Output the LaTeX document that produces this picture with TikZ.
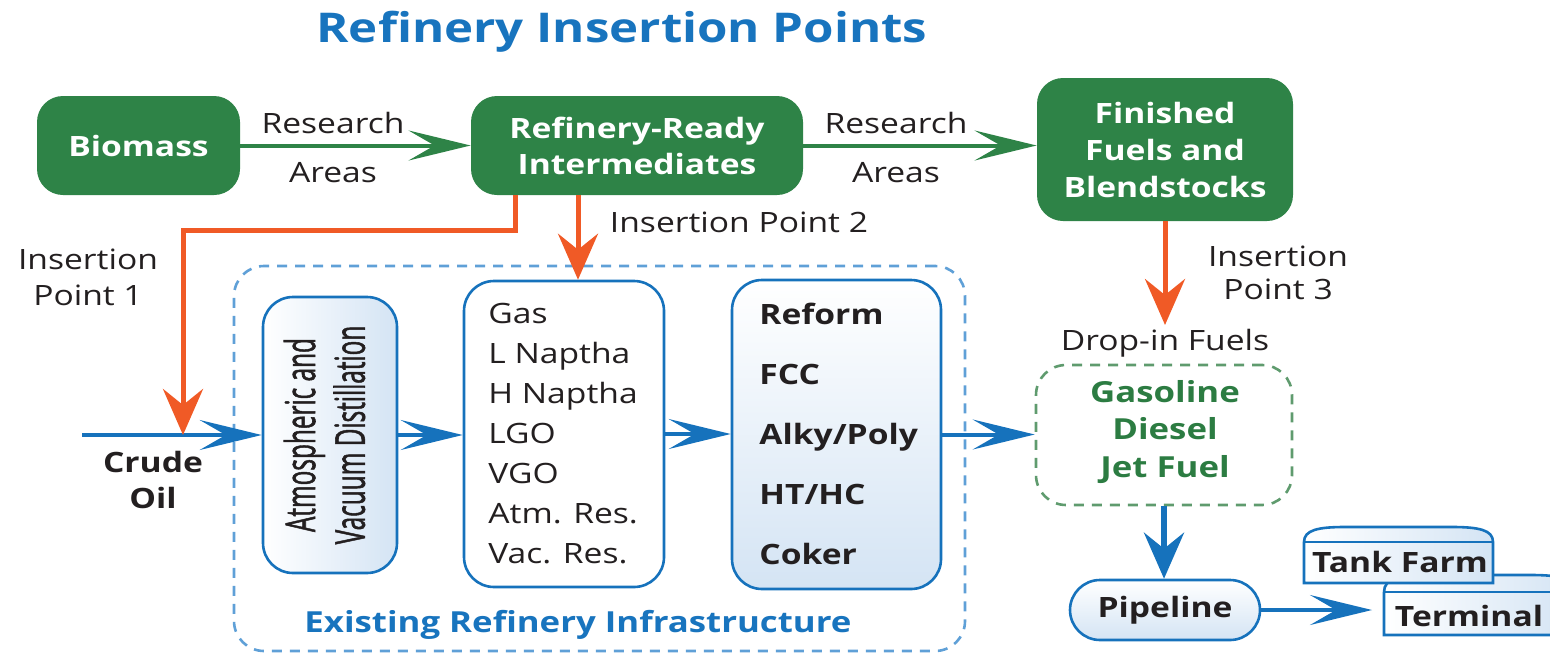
\documentclass[tikz,border=0pt]{standalone}
\usepackage{fontspec}
\usepackage{graphicx}
\setmainfont[FakeStretch=1.2]{Open Sans}
\newfontfamily\condfont[FakeStretch=0.84,FakeBold=1.5]{Open Sans}
\usetikzlibrary{arrows.meta,calc}
\definecolor{boxgreen}{RGB}{46,131,71}
\definecolor{orng}{RGB}{240,90,38}
\definecolor{lineblue}{RGB}{22,114,188}
\definecolor{dashblue}{RGB}{95,160,215}
\definecolor{titleblue}{RGB}{24,116,190}
\definecolor{lightblue}{RGB}{212,228,244}
\definecolor{txt}{RGB}{35,31,32}
\definecolor{fuelgreen}{RGB}{44,124,66}
\definecolor{dashgreen}{RGB}{95,155,110}
\begin{document}
\begin{tikzpicture}[x=0.5pt,y=-0.5pt,
  every node/.style={text=txt, font=\fontsize{14}{18.5}\selectfont},
  greenbox/.style={draw=none, fill=boxgreen, rounded corners=13pt, text=white,
    font=\bfseries\fontsize{14}{18.5}\selectfont, align=center, inner sep=0pt},
  bluebox/.style={draw=lineblue, line width=1.3pt, rounded corners=15pt, inner sep=0pt},
  hhead/.style={-{Stealth[length=31pt,width=15pt,inset=13pt]}},
  vhead/.style={-{Stealth[length=23pt,width=20pt,inset=8pt]}},
  gline/.style={draw=boxgreen, line width=2pt, hhead},
  bline/.style={draw=lineblue, line width=2pt, hhead},
  bvline/.style={draw=lineblue, line width=3pt, vhead},
  oline/.style={draw=orng, line width=2.5pt, vhead},
  lbl/.style={anchor=base, inner sep=0pt},
  dashbox/.style={line width=1.3pt, dash pattern=on 5pt off 4pt, rounded corners=15pt, inner sep=0pt},
  tankline/.style={draw=lineblue, line width=1.3pt},
]
\useasboundingbox (0,0) rectangle (1550,653);
\clip (0,0) rectangle (1550,653);

% title
\node[lbl, text=titleblue, font=\bfseries\fontsize{20.5}{24}\selectfont] (title) at (622,42) {Refinery Insertion Points};

% top green boxes
\node[greenbox, minimum width=101.5pt, minimum height=49.5pt] (bio) at (138.5,145.5) {Biomass};
\node[greenbox, minimum width=166pt, minimum height=49.5pt, font=\bfseries\fontsize{14}{18}\selectfont] (rri) at (637,145.5) {Refinery-Ready\\Intermediates};
\node[greenbox, minimum width=128pt, minimum height=71.5pt] (fin) at (1165,149.5) {Finished\\Fuels and\\Blendstocks};

% labels
\node[lbl] (r1) at (333,133) {Research};
\node[lbl] (a1) at (333,182) {Areas};
\node[lbl] (r2) at (896,133) {Research};
\node[lbl] (a2) at (896,182) {Areas};
\node[align=center, inner sep=0pt, font=\fontsize{14}{18}\selectfont] (ip1) at (88,277) {Insertion\\Point 1};
\node[lbl] (ip2) at (739,232) {Insertion Point 2};
\node[align=center, inner sep=0pt, font=\fontsize{14}{16.5}\selectfont] (ip3) at (1278,273) {Insertion\\Point 3};
\node[lbl] (drop) at (1165,350) {Drop-in Fuels};
\node[align=center, inner sep=0pt, font=\bfseries\fontsize{14}{18}\selectfont] (crude) at (153,480) {Crude\\Oil};

% existing refinery infrastructure
\node[dashbox, draw=dashblue, minimum width=365.5pt, minimum height=192.5pt] (infra) at (599.5,458.5) {};
\node[lbl, text=titleblue, font=\bfseries\fontsize{14.5}{18}\selectfont] (infral) at (578,632) {Existing Refinery Infrastructure};

\node[bluebox, left color=white, right color=lightblue, minimum width=67pt, minimum height=138pt] (dist) at (330,435) {};
\node[rotate=90, inner sep=0pt] (distt) at (dist.center) {\scalebox{1}[1.42]{\condfont\fontsize{14.5}{17.5}\selectfont\begin{tabular}{@{}c@{}}Atmospheric and\\Vacuum Distillation\end{tabular}}};

\node[bluebox, fill=white, minimum width=100pt, minimum height=153pt] (prod) at (564,434) {};
\node[anchor=west, align=left, inner sep=0pt, font=\fontsize{14}{20}\selectfont] (prodt) at (488,434) {Gas\\L Naptha\\H Naptha\\LGO\\VGO\\Atm. Res.\\Vac. Res.};

\node[bluebox, top color=white, bottom color=lightblue, minimum width=104.5pt, minimum height=154.5pt] (proc) at (836.5,434.5) {};
\node[anchor=west, align=left, inner sep=0pt, font=\bfseries\fontsize{14}{30}\selectfont] (proct) at (759,434) {Reform\\FCC\\Alky/Poly\\HT/HC\\Coker};

% drop-in fuels
\node[dashbox, draw=dashgreen, minimum width=128pt, minimum height=70pt] (fuels) at (1164,435) {};
\node[align=center, text=fuelgreen, font=\bfseries\fontsize{14.5}{18.75}\selectfont, inner sep=0pt] (fuelst) at (1165,432) {Gasoline\\Diesel\\Jet Fuel};

% pipeline
\node[bluebox, top color=white, bottom color=lightblue, minimum width=95pt, minimum height=30pt, font=\bfseries\fontsize{14}{18}\selectfont] (pipe) at (1165,610) {Pipeline};

% terminal and tank farm
\path[tankline, left color=white, right color=lightblue] (1384,635) -- (1384,592) .. controls (1384,578) and (1400,575) .. (1430,575) -- (1530,575) .. controls (1560,575) and (1573,578) .. (1573,592) -- (1573,635) -- cycle;
\draw[tankline] (1384,592) -- (1573,592);
\path[tankline, left color=white, right color=lightblue] (1304,583) -- (1304,542) .. controls (1304,530) and (1318,527) .. (1345,527) -- (1452,527) .. controls (1479,527) and (1493,530) .. (1493,542) -- (1493,583) -- cycle;
\draw[tankline] (1304,542) -- (1493,542);
\node[lbl, font=\bfseries\fontsize{14}{18}\selectfont] (tank) at (1400,572) {Tank Farm};
\node[lbl, font=\bfseries\fontsize{14}{18}\selectfont] (term) at (1469,626) {Terminal};

% connectors
\coordinate (crudein) at (82,435);
\coordinate (ip1bend) at (183,230);
\coordinate (ip1top) at (515,230);
\coordinate (ip2x) at (578,250);
\coordinate (ip3end) at (1165,325);
\coordinate (termleft) at (1372,610);

\draw[gline] (bio.east) -- (rri.west);
\draw[gline] (rri.east) -- (rri.east -| fin.west);
\draw[bline] (crudein) -- (dist.west);
\draw[oline] (rri.south -| ip1top) -- (ip1top) -- (ip1bend) -- (ip1bend |- crudein);
\draw[oline] (rri.south -| ip2x) -- (prod.north -| ip2x);
\draw[oline] (fin.south) -- (ip3end);
\draw[bline] (dist.east) -- (dist.east -| prod.west);
\draw[bline] (prod.east) -- (prod.east -| proc.west);
\draw[bline] (proc.east) -- (proc.east -| fuels.west);
\draw[bvline] (fuels.south) -- (fuels.south |- pipe.north);
\draw[bline] (pipe.east) -- (termleft);
\end{tikzpicture}
\end{document}
